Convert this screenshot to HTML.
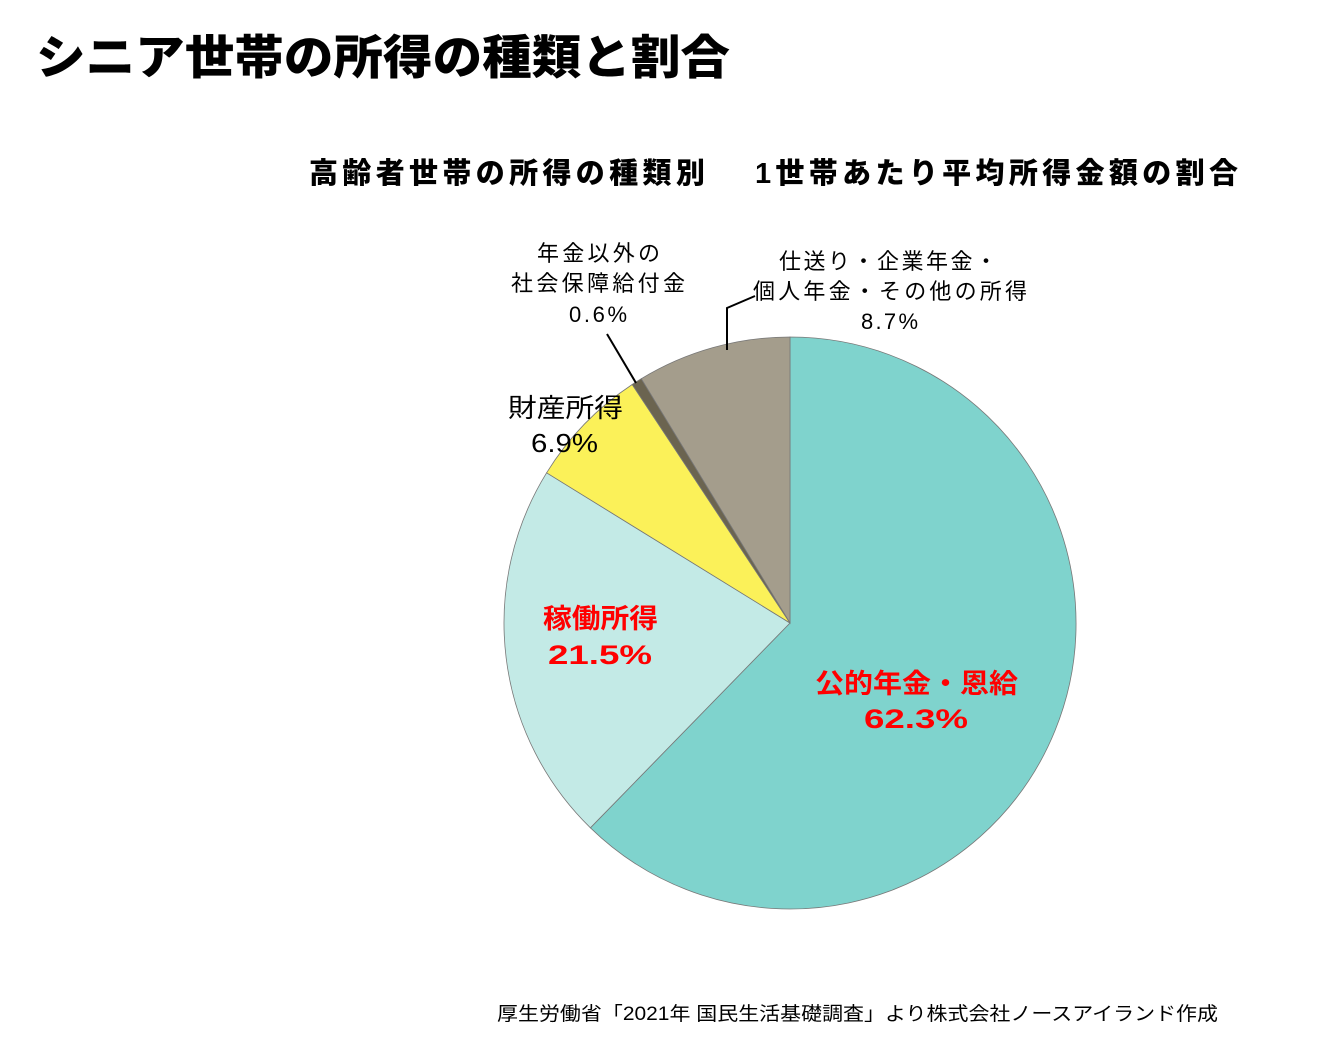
<!DOCTYPE html>
<html><head><meta charset="utf-8"><style>
body{margin:0;background:#fff;}
svg text{font-family:"Liberation Sans","Noto Sans CJK JP",sans-serif;}
</style></head><body>
<svg width="1319" height="1037" viewBox="0 0 1319 1037" xmlns="http://www.w3.org/2000/svg">
<rect width="1319" height="1037" fill="#fff"/>
<text x="36" y="74" font-size="47" font-weight="900" fill="#000" textLength="694" lengthAdjust="spacingAndGlyphs">シニア世帯の所得の種類と割合</text>
<text x="309" y="183" font-size="29" font-weight="900" fill="#000" textLength="929" lengthAdjust="spacing">高齢者世帯の所得の種類別　 1世帯あたり平均所得金額の割合</text>
<g stroke="#777" stroke-width="0.8">
<path d="M790,623 L790,337 A286,286 0 1,1 590.4,827.8 Z" fill="#7fd3cd"/>
<path d="M790,623 L590.4,827.8 A286,286 0 0,1 546.6,472.8 Z" fill="#c3eae6"/>
<path d="M790,623 L546.6,472.8 A286,286 0 0,1 632.2,384.5 Z" fill="#fbf159"/>
<path d="M790,623 L632.2,384.5 A286,286 0 0,1 641.3,378.7 Z" fill="#6b6450"/>
<path d="M790,623 L641.3,378.7 A286,286 0 0,1 790,337 Z" fill="#a49d8c"/>
</g>
<line x1="636" y1="383" x2="607" y2="334" stroke="#000" stroke-width="2"/>
<polyline points="727,350 727,308 755,296" fill="none" stroke="#000" stroke-width="2"/>
<g font-size="22" fill="#000" lengthAdjust="spacingAndGlyphs">
<text x="537" y="261" textLength="123">年金以外の</text>
<text x="511" y="291" textLength="174">社会保障給付金</text>
<text x="569" y="322" textLength="58">0.6%</text>
<text x="779" y="269" textLength="218">仕送り・企業年金・</text>
<text x="753" y="299" textLength="274">個人年金・その他の所得</text>
<text x="861" y="329" textLength="57">8.7%</text>
</g>
<g font-size="26" fill="#000">
<text x="508" y="417" textLength="115" lengthAdjust="spacingAndGlyphs">財産所得</text>
<text x="531" y="452" textLength="67" lengthAdjust="spacingAndGlyphs">6.9%</text>
</g>
<g font-size="27" font-weight="bold" fill="#f00">
<text x="543" y="628" textLength="115" lengthAdjust="spacingAndGlyphs">稼働所得</text>
<text x="548" y="664" textLength="104" lengthAdjust="spacingAndGlyphs">21.5%</text>
<text x="815" y="693" textLength="203" lengthAdjust="spacingAndGlyphs">公的年金・恩給</text>
<text x="864" y="728" textLength="104" lengthAdjust="spacingAndGlyphs">62.3%</text>
</g>
<text x="497" y="1020" font-size="19" fill="#000" textLength="721" lengthAdjust="spacingAndGlyphs">厚生労働省「2021年 国民生活基礎調査」より株式会社ノースアイランド作成</text>
</svg>
</body></html>
